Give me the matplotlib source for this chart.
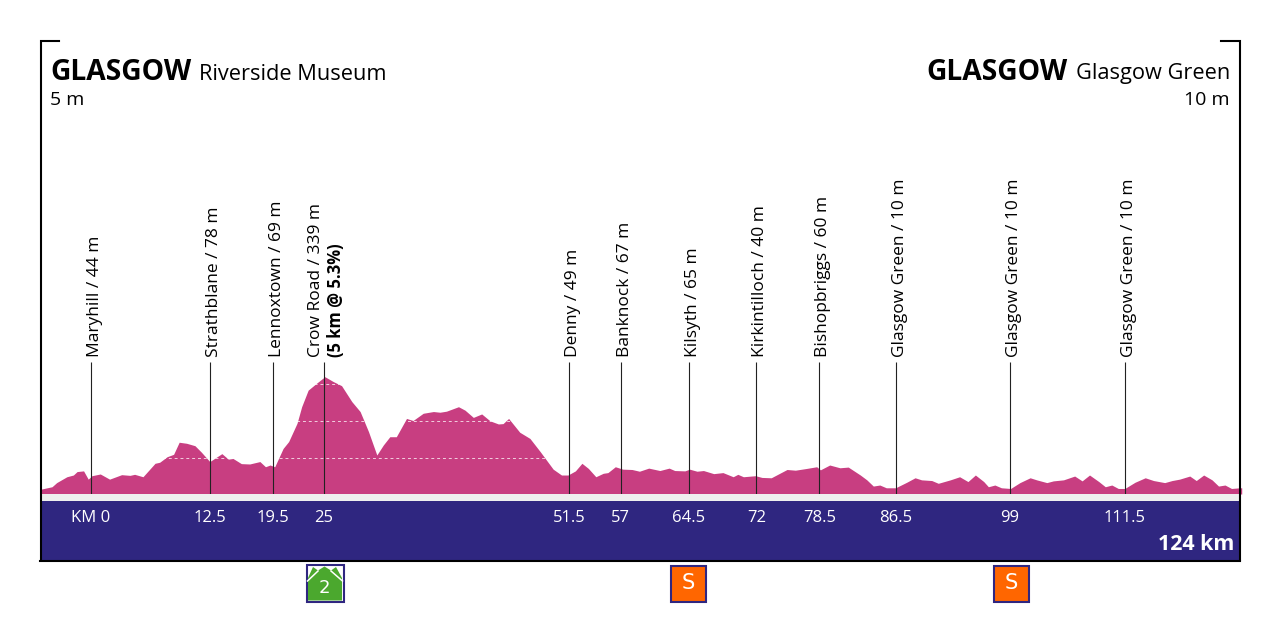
"""Stage profile, Glasgow - Glasgow, 124 km."""
import matplotlib
matplotlib.use("Agg")
import matplotlib.pyplot as plt
from matplotlib.patches import Rectangle, Polygon

plt.rcParams["font.family"] = ["Open Sans", "DejaVu Sans"]

# ---------------- data ----------------
profile_km = [-5.5, -5.4, -4.2, -3.7, -2.6, -1.9, -1.5, -0.8, -0.3, 0.1, 1.0, 2.0, 3.3, 4.2, 4.7, 5.6, 6.9, 7.4,
              8.2, 8.9, 9.5, 10.3, 11.2, 11.9, 12.8, 14.1, 14.8, 15.3, 16.2, 17.1, 18.2, 18.8, 19.3, 19.8, 20.7,
              21.3, 22.2, 22.7, 23.4, 24.3, 25.2, 26.1, 27.0, 28.1, 29.0, 29.9, 30.8, 31.5, 32.2, 32.9, 34.0, 34.7,
              35.8, 36.9, 37.6, 38.3, 39.6, 40.3, 41.2, 42.1, 43.0, 43.9, 44.4, 45.0, 46.2, 47.3, 48.4, 49.8, 50.7,
              51.4, 52.2, 52.9, 53.6, 54.4, 55.2, 55.7, 56.5, 57.3, 58.3, 59.1, 60.1, 61.3, 62.3, 62.9, 64.0, 64.5,
              65.3, 66.0, 67.1, 68.1, 69.2, 69.7, 70.3, 71.6, 72.3, 73.3, 75.0, 75.9, 77.1, 78.2, 78.6, 79.6, 80.7,
              81.6, 82.9, 83.6, 84.3, 85.0, 85.7, 86.7, 87.9, 88.8, 89.5, 90.6, 91.3, 92.6, 93.6, 94.5, 95.3, 96.2,
              96.7, 97.4, 98.1, 99.1, 100.1, 101.2, 101.9, 103.0, 103.7, 104.8, 106.0, 106.8, 107.6, 108.6, 109.3,
              110.0, 110.7, 111.4, 112.5, 113.6, 114.5, 115.7, 116.5, 117.3, 118.4, 119.1, 119.9, 120.8, 121.5,
              122.2, 122.9, 123.8, 124.0]
profile_m = [14, 14, 21, 33, 50, 55, 65, 67, 43, 53, 58, 43, 56, 54, 57, 50, 89, 92,
             108, 115, 150, 147, 140, 121, 94, 117, 101, 103, 88, 87, 94, 79, 84, 79, 132,
             152, 205, 253, 301, 321, 340, 326, 314, 268, 239, 181, 113, 142, 166, 166, 219, 213,
             234, 239, 237, 240, 253, 243, 222, 232, 212, 203, 204, 219, 179, 161, 123, 72, 55,
             55, 67, 89, 74, 50, 60, 62, 79, 72, 71, 66, 75, 68, 75, 68, 67, 72,
             66, 68, 59, 62, 50, 57, 50, 53, 48, 47, 71, 69, 74, 79, 70, 84, 76,
             78, 55, 41, 23, 26, 18, 18, 34, 47, 41, 39, 31, 41, 50, 36, 55, 36,
             21, 26, 18, 16, 33, 47, 41, 33, 38, 41, 52, 38, 55, 36, 21,
             26, 16, 16, 34, 47, 39, 33, 39, 43, 52, 39, 55, 41, 23,
             26, 16, 18, 18]

place_km = [0.0, 12.8, 19.6, 25.1, 51.5, 57.1, 64.4, 71.7, 78.5, 86.7, 99.0, 111.4]
place_names = ["Maryhill / 44 m", "Strathblane / 78 m", "Lennoxtown / 69 m", "Crow Road / 339 m", "Denny / 49 m",
               "Banknock / 67 m", "Kilsyth / 65 m", "Kirkintilloch / 40 m", "Bishopbriggs / 60 m",
               "Glasgow Green / 10 m", "Glasgow Green / 10 m", "Glasgow Green / 10 m"]
km_labels = ["KM 0", "12.5", "19.5", "25", "51.5", "57", "64.5", "72", "78.5", "86.5", "99", "111.5"]
grid_m = [104, 212, 319]

PINK = "#C83E81"
NAVY = "#2F2680"

fig = plt.figure(figsize=(12.8, 6.4), dpi=100)

# px 91 = km 0, 9.28 px per km; px 494 = 0 m, .345 px per m
ax = fig.add_axes([0, 0, 1, 1])
ax.set_xlim(-91 / 9.28, (1280 - 91) / 9.28)
ax.set_ylim(-146 / .345, 494 / .345)
ax.axis("off")

# overlay in pixels for frame, band and texts
ov = fig.add_axes([0, 0, 1, 1])
ov.set_xlim(0, 1280); ov.set_ylim(640, 0)
ov.axis("off"); ov.patch.set_alpha(0)

poly = ax.fill_between(profile_km, profile_m, 0, color=PINK, lw=0)
for m in grid_m:
    ln, = ax.plot([-5.5, 124], [m, m], color="white", lw=.7, ls=(0, (3, 3)), alpha=.75)
    ln.set_clip_path(poly.get_paths()[0], transform=ax.transData)
ax.vlines(place_km, 0, 383, color="#222222", lw=.8, zorder=3)

# band under the profile
ov.add_patch(Rectangle((41, 494), 1198, 7, fc="#EFEFEF", ec="none"))
ov.add_patch(Rectangle((41, 501), 1198, 59, fc=NAVY, ec="none"))
ov.plot([59, 40.5, 40.5], [40.5, 40.5, 560], color="black", lw=1.5, solid_joinstyle="miter")
ov.plot([1221, 1239.5, 1239.5], [40.5, 40.5, 560], color="black", lw=1.5, solid_joinstyle="miter")
ov.plot([40, 1240], [560.5, 560.5], color="black", lw=1.5)

# header
ov.text(50, 72, "GLASGOW", fontsize=20.3, fontweight="bold", ha="left", va="center", color="black")
ov.text(199, 74, "Riverside Museum", fontsize=15.7, ha="left", va="center", color="black")
ov.text(50, 100, "5 m", fontsize=14, ha="left", va="center", color="black")
ov.text(1068, 72, "GLASGOW", fontsize=20.3, fontweight="bold", ha="right", va="center", color="black")
ov.text(1230, 74, "Glasgow Green", fontsize=15.7, ha="right", va="center", color="black")
ov.text(1230, 100, "10 m", fontsize=14, ha="right", va="center", color="black")

# place names + km labels
for km, name, lab in zip(place_km, place_names, km_labels):
    px = 91 + km * 9.28
    shift = -8 if name.startswith("Crow") else 4
    ov.text(px + shift, 357, name, rotation=90, fontsize=12.5, ha="center", va="bottom", color="black")
    ov.text(px, 518, lab, fontsize=12, ha="center", va="center", color="white", fontweight="medium")
ov.text(336, 357, "(5 km @ 5.3%)", rotation=90, fontsize=12, fontweight="bold", ha="center", va="bottom", color="black")
ov.text(1234, 545, "124 km", fontsize=15.4, fontweight="bold", ha="right", va="center", color="white")

# climb badge
ov.add_patch(Rectangle((306.5, 565), 37, 36.5, fc="white", ec=NAVY, lw=1.5))
ov.add_patch(Polygon([(308, 600.5), (308, 578), (313, 567), (318, 570.5), (324.5, 566.5), (331, 570.5),
                      (336, 567), (342, 578), (342, 600.5)], fc="#4BA82E", ec="none"))
ov.plot([307.5, 318], [581, 571], color="white", lw=1.1)
ov.plot([331, 342.5], [571, 581], color="white", lw=1.1)
ov.text(324.5, 588, "2", color="white", fontsize=13, ha="center", va="center", family="DejaVu Sans")

# sprint badges
for x0 in (670, 993):
    ov.add_patch(Rectangle((x0 + .5, 565.5), 35.5, 36, fc="#FF6600", ec=NAVY, lw=1.5))
    ov.text(x0 + 18, 583, "S", color="white", fontsize=15, ha="center", va="center", family="DejaVu Sans")

fig.savefig("out.png", dpi=100)
